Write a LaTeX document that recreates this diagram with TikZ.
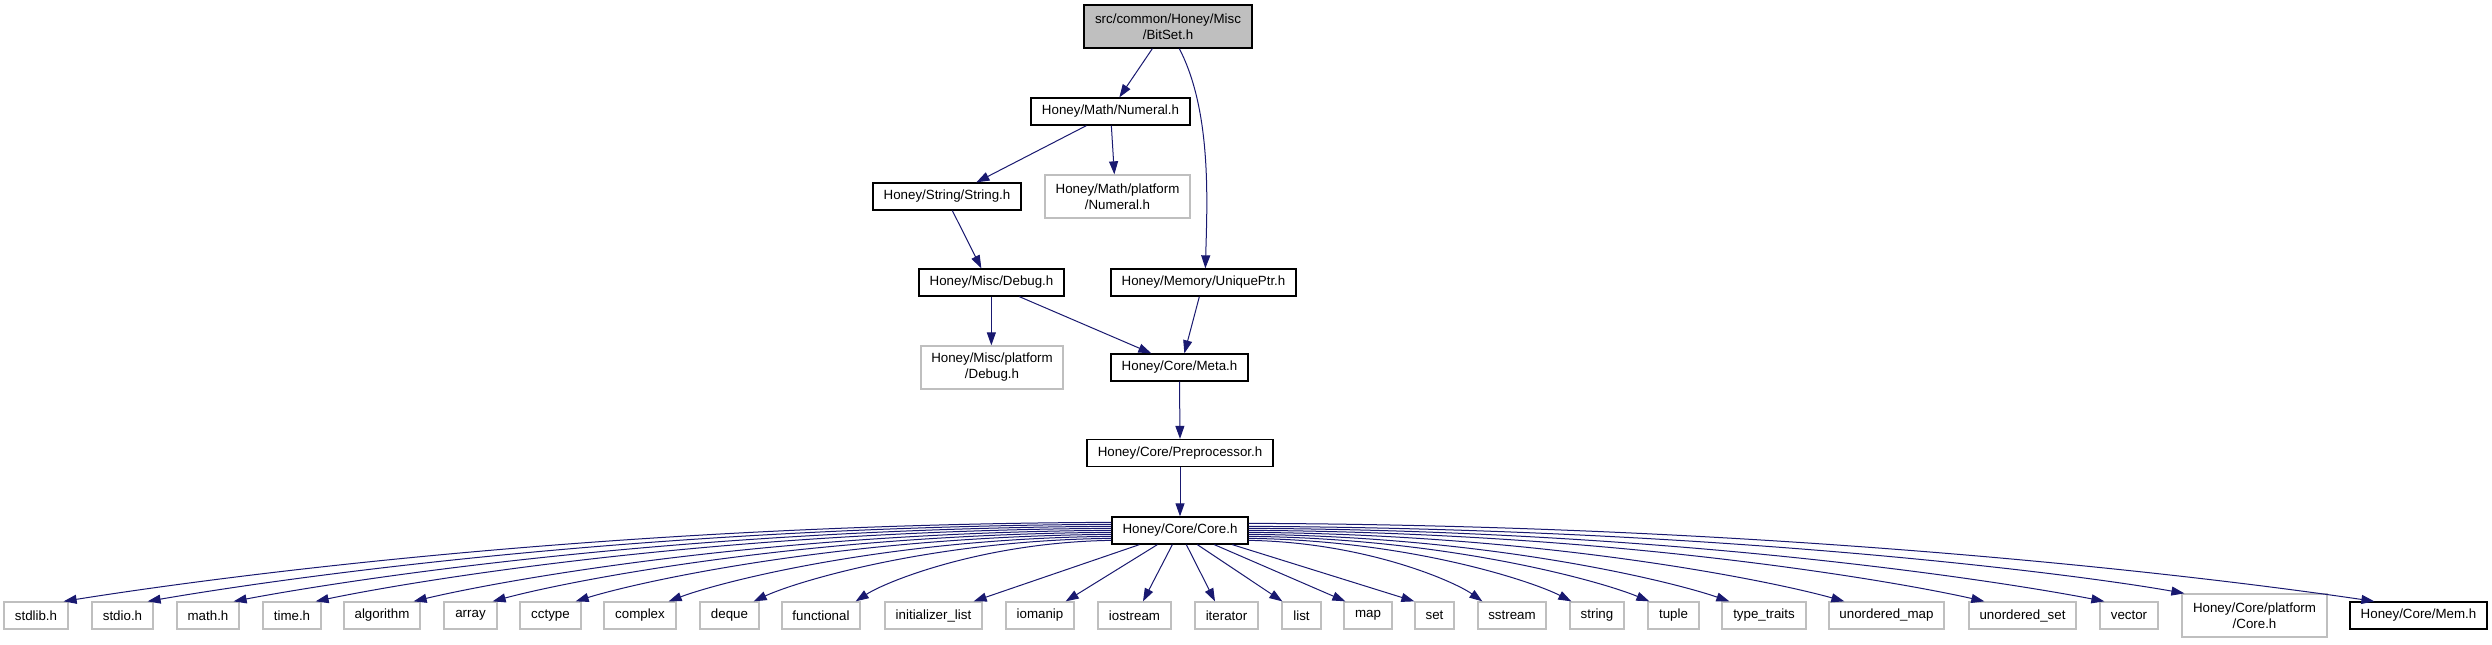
\documentclass[tikz,border=0pt]{standalone}
\usepackage{fontspec}
\setmainfont{Liberation Sans}
\usetikzlibrary{arrows.meta,calc}
\definecolor{edgeblue}{HTML}{191970}
\definecolor{extgray}{HTML}{BFBFBF}
\definecolor{bitgray}{HTML}{BFBFBF}
\newcommand{\fanedge}[2]{\draw[edge] let \p1=#1, \p2=#2 in #1 .. controls ({0.5*\x1+0.5*\x2},{\y1-2pt}) and ({0.12*\x1+0.88*\x2},{\y2+20pt}) .. #2;}
\newcommand{\leaf}[4]{\node[extbox,minimum width=#3pt] (#1) at (#2,615.5) {#4};}
\begin{document}
\begin{tikzpicture}[x=1pt,y=-1pt,
  font=\fontsize{13.33}{16}\selectfont,
  box/.style={draw=black,line width=1.3pt,inner sep=0pt,align=center,minimum height=27pt,fill=white},
  extbox/.style={draw=extgray,line width=1.3pt,inner sep=0pt,align=center,minimum height=27pt,fill=white},
  edge/.style={draw=edgeblue,line width=1pt,-{Triangle[length=13pt,width=9pt]}}]
\fill[white] (0,0) rectangle (2492,645);
\useasboundingbox (0,0) rectangle (2492,645);

% upper part
\node[box,fill=bitgray,minimum width=168pt,minimum height=43pt] (bitset) at (1168,26.5) {src/common/Honey/Misc\\/BitSet.h};
\node[box,minimum width=159pt] (numeral) at (1110.5,111.5) {Honey/Math/Numeral.h};
\node[extbox,minimum width=145pt,minimum height=43pt] (mathplat) at (1117.5,196.5) {Honey/Math/platform\\/Numeral.h};
\node[box,minimum width=148pt] (string) at (947,196.5) {Honey/String/String.h};
\node[box,minimum width=145pt] (debug) at (991.5,282.5) {Honey/Misc/Debug.h};
\node[box,minimum width=185pt] (uptr) at (1203.5,282.5) {Honey/Memory/UniquePtr.h};
\node[extbox,minimum width=142pt,minimum height=43pt] (miscplat) at (992,367.5) {Honey/Misc/platform\\/Debug.h};
\node[box,minimum width=137pt] (meta) at (1179.5,367.5) {Honey/Core/Meta.h};
\node[box,minimum width=186pt] (preproc) at (1180,453) {Honey/Core/Preprocessor.h};
\node[box,minimum width=136pt] (core) at (1180,530.5) {Honey/Core/Core.h};

% bottom row
\leaf{stdlib}{36}{64}{stdlib.h}
\leaf{stdio}{122.5}{61}{stdio.h}
\leaf{mathh}{208}{62}{math.h}
\leaf{timeh}{292}{58}{time.h}
\leaf{algorithm}{382}{76}{algorithm}
\leaf{array}{470.5}{53}{array}
\leaf{cctype}{550.5}{61}{cctype}
\leaf{complex}{640}{72}{complex}
\leaf{deque}{729.5}{59}{deque}
\leaf{functional}{821}{78}{functional}
\leaf{initlist}{933.5}{97}{initializer\_list}
\leaf{iomanip}{1040}{68}{iomanip}
\leaf{iostream}{1134.5}{73}{iostream}
\leaf{iterator}{1226.5}{63}{iterator}
\leaf{list}{1301.5}{39}{list}
\leaf{map}{1368}{48}{map}
\leaf{set}{1434.5}{39}{set}
\leaf{sstream}{1512}{68}{sstream}
\leaf{stringstd}{1597}{54}{string}
\leaf{tuple}{1673.5}{51}{tuple}
\leaf{typetraits}{1764}{84}{type\_traits}
\leaf{umap}{1886.5}{115}{unordered\_map}
\leaf{uset}{2022.5}{107}{unordered\_set}
\leaf{vector}{2129}{58}{vector}
\node[extbox,minimum width=145pt,minimum height=43pt] (coreplat) at (2254.5,615.5) {Honey/Core/platform\\/Core.h};
\node[box,minimum width=137pt] (mem) at (2418.5,615.5) {Honey/Core/Mem.h};

% upper edges
\draw[edge] ($(bitset.south west)+(69,0)$) -- ($(numeral.north west)+(89,0)$);
\draw[edge] ($(bitset.south west)+(96,0)$) .. controls +(32,62) and +(2,-69) .. ($(uptr.north west)+(95,0)$);
\draw[edge] ($(numeral.south west)+(56,0)$) -- ($(string.north west)+(104,0)$);
\draw[edge] ($(numeral.south west)+(81,0)$) -- ($(mathplat.north west)+(70,0)$);
\draw[edge] ($(string.south west)+(80,0)$) -- ($(debug.north west)+(63,0)$);
\draw[edge] ($(debug.south west)+(73,0)$) -- ($(miscplat.north west)+(71,0)$);
\draw[edge] ($(debug.south west)+(101,0)$) -- ($(meta.north west)+(41,0)$);
\draw[edge] ($(uptr.south west)+(89,0)$) -- ($(meta.north west)+(74,0)$);
\draw[edge] (meta.south) -- (preproc.north);
\draw[edge] (preproc.south) -- (core.north);

% core fan, left side
\fanedge{($(core.north west)+(0,6)$)}{($(stdlib.north east)+(-5,0)$)}
\fanedge{($(core.north west)+(0,8)$)}{($(stdio.north east)+(-6,0)$)}
\fanedge{($(core.north west)+(0,10)$)}{($(mathh.north east)+(-6,0)$)}
\fanedge{($(core.north west)+(0,12)$)}{($(timeh.north east)+(-6,0)$)}
\fanedge{($(core.north west)+(0,14)$)}{($(algorithm.north east)+(-7,0)$)}
\fanedge{($(core.north west)+(0,16)$)}{($(array.north east)+(-5,0)$)}
\fanedge{($(core.north west)+(0,18)$)}{($(cctype.north east)+(-6,0)$)}
\fanedge{($(core.north west)+(0,20)$)}{($(complex.north east)+(-8,0)$)}
\fanedge{($(core.north west)+(0,22)$)}{($(deque.north east)+(-6,0)$)}
\fanedge{($(core.north west)+(0,24)$)}{($(functional.north east)+(-5,0)$)}
% core fan, middle
\draw[edge] ($(core.south west)+(28,0)$) -- ($(initlist.north east)+(-9,0)$);
\draw[edge] ($(core.south west)+(46,0)$) -- ($(iomanip.north east)+(-9,0)$);
\draw[edge] ($(core.south west)+(61,0)$) -- ($(iostream.north)+(8.5,0)$);
\draw[edge] ($(core.south west)+(75,0)$) -- ($(iterator.north)+(-11.5,0)$);
\draw[edge] ($(core.south west)+(86,0)$) -- ($(list.north west)+(1,0)$);
\draw[edge] ($(core.south west)+(103,0)$) -- ($(map.north west)+(2,0)$);
\draw[edge] ($(core.south west)+(121,0)$) -- ($(set.north west)+(0,0)$);
% core fan, right side
\fanedge{($(core.north east)+(0,24)$)}{($(sstream.north west)+(5,0)$)}
\fanedge{($(core.north east)+(0,22)$)}{($(stringstd.north west)+(2,0)$)}
\fanedge{($(core.north east)+(0,20)$)}{($(tuple.north west)+(2,0)$)}
\fanedge{($(core.north east)+(0,18)$)}{($(typetraits.north west)+(8,0)$)}
\fanedge{($(core.north east)+(0,16)$)}{($(umap.north west)+(16,0)$)}
\fanedge{($(core.north east)+(0,14)$)}{($(uset.north west)+(16,0)$)}
\fanedge{($(core.north east)+(0,12)$)}{($(vector.north west)+(5,0)$)}
\fanedge{($(core.north east)+(0,10)$)}{($(coreplat.north west)+(3,0)$)}
\fanedge{($(core.north east)+(0,7)$)}{($(mem.north west)+(25,0)$)}
\end{tikzpicture}
\end{document}
